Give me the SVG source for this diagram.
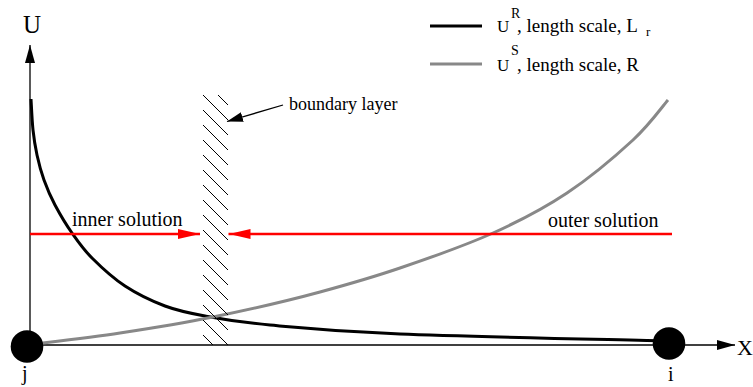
<svg xmlns="http://www.w3.org/2000/svg" width="753" height="387" viewBox="0 0 753 387">
<style>
text{font-family:'Liberation Serif','Times New Roman',serif;fill:#000}
.axis{stroke:#000;stroke-width:1.3;fill:none}
.red{stroke:#ff0000;stroke-width:2.6;fill:none}
.hatch{stroke:#000;stroke-width:1}
.blk{stroke:#000;stroke-width:3;fill:none}
.gry{stroke:#888;stroke-width:3;fill:none}
</style>
<defs>
<marker id="ah" viewBox="0 0 18 10" refX="18" refY="5" markerWidth="18" markerHeight="10" markerUnits="userSpaceOnUse" orient="auto"><path d="M0,0 L18,5 L0,10 Z" fill="#000"/></marker>
<marker id="ahr" viewBox="0 0 22 10" refX="22" refY="5" markerWidth="22" markerHeight="10" markerUnits="userSpaceOnUse" orient="auto"><path d="M0,0 L22,5 L0,10 Z" fill="#ff0000"/></marker>
<marker id="ahs" viewBox="0 0 16 10" refX="16" refY="5" markerWidth="16" markerHeight="10" markerUnits="userSpaceOnUse" orient="auto"><path d="M0,0 L16,5 L0,10 Z" fill="#000"/></marker>
<clipPath id="hc"><rect x="203" y="95" width="26" height="250"/></clipPath>
</defs>
<g id="axes">
<line class="axis" x1="30" y1="346" x2="30" y2="45" marker-end="url(#ah)"/>
<line class="axis" x1="30" y1="345" x2="735" y2="345" marker-end="url(#ah)"/>
<text x="23" y="33" font-size="25">U</text>
<text x="737" y="355" font-size="22">X</text>
</g>
<g id="curves">
<path id="curve-UR" class="blk" d="M31,99 C31.33,104.2 32,120.7 33,130 C34,139.3 35.2,146.7 37,155 C38.8,163.3 41,171.7 44,180 C47,188.3 50.3,196.2 55,205 C59.7,213.8 65.8,224.2 72,233 C78.2,241.8 83.2,249.2 92,258 C100.8,266.8 112.8,278 125,286 C137.2,294 151.7,301 165,306 C178.3,311 187.5,312.8 205,316 C222.5,319.2 237.5,322 270,325 C302.5,328 333.7,331.3 400,334 C466.3,336.7 623.3,339.8 668,341"/>
<path id="curve-US" class="gry" d="M27,345 C42.5,343 89,337.7 120,333 C151,328.3 179.7,323.8 213,317 C246.3,310.2 288.8,300.5 320,292 C351.2,283.5 371.2,277.8 400,268 C428.8,258.2 465.2,245.5 493,233 C520.8,220.5 543.7,208.5 567,193 C590.3,177.5 616.2,155.5 633,140 C649.8,124.5 662.2,106.7 668,100"/>
</g>
<g id="boundary-layer">
<g clip-path="url(#hc)">
<path class="hatch" d="M203,80 l25,25 M203,95 l25,25 M203,110 l25,25 M203,125 l25,25 M203,140 l25,25 M203,155 l25,25 M203,170 l25,25 M203,185 l25,25 M203,200 l25,25 M203,215 l25,25 M203,230 l25,25 M203,245 l25,25 M203,260 l25,25 M203,275 l25,25 M203,290 l25,25 M203,305 l25,25 M203,320 l25,25 M203,335 l25,25"/>
</g>
<line x1="283" y1="105" x2="227" y2="121.5" stroke="#000" stroke-width="1.3" marker-end="url(#ahs)"/>
<text x="289" y="110" font-size="18">boundary layer</text>
</g>
<g id="connectors">
<line id="inner-arrow" class="red" x1="30" y1="234" x2="200" y2="234" marker-end="url(#ahr)"/>
<line id="outer-arrow" class="red" x1="672" y1="234" x2="228.5" y2="234" marker-end="url(#ahr)"/>
</g>
<text x="72" y="226" font-size="20">inner solution</text>
<text x="548" y="227" font-size="20">outer solution</text>
<g id="node-j">
<circle cx="27" cy="346.5" r="16.3" fill="#000"/>
<text x="22" y="380" font-size="20">j</text>
</g>
<g id="node-i">
<circle cx="669" cy="343.5" r="16.3" fill="#000"/>
<text x="668" y="381" font-size="20">i</text>
</g>
<g id="legend">
<line x1="430" y1="26" x2="482" y2="26" stroke="#000" stroke-width="2.8"/>
<text x="497" y="32" font-size="17">U<tspan x="511" y="18" font-size="14">R</tspan><tspan x="517" y="32" font-size="19">, length scale, L</tspan><tspan x="646" y="36" font-size="13">r</tspan></text>
<line x1="430" y1="64" x2="482" y2="64" stroke="#888" stroke-width="2.8"/>
<text x="497" y="71" font-size="17">U<tspan x="511" y="55" font-size="14">S</tspan><tspan x="517" y="71" font-size="19">, length scale, R</tspan></text>
</g>
</svg>
